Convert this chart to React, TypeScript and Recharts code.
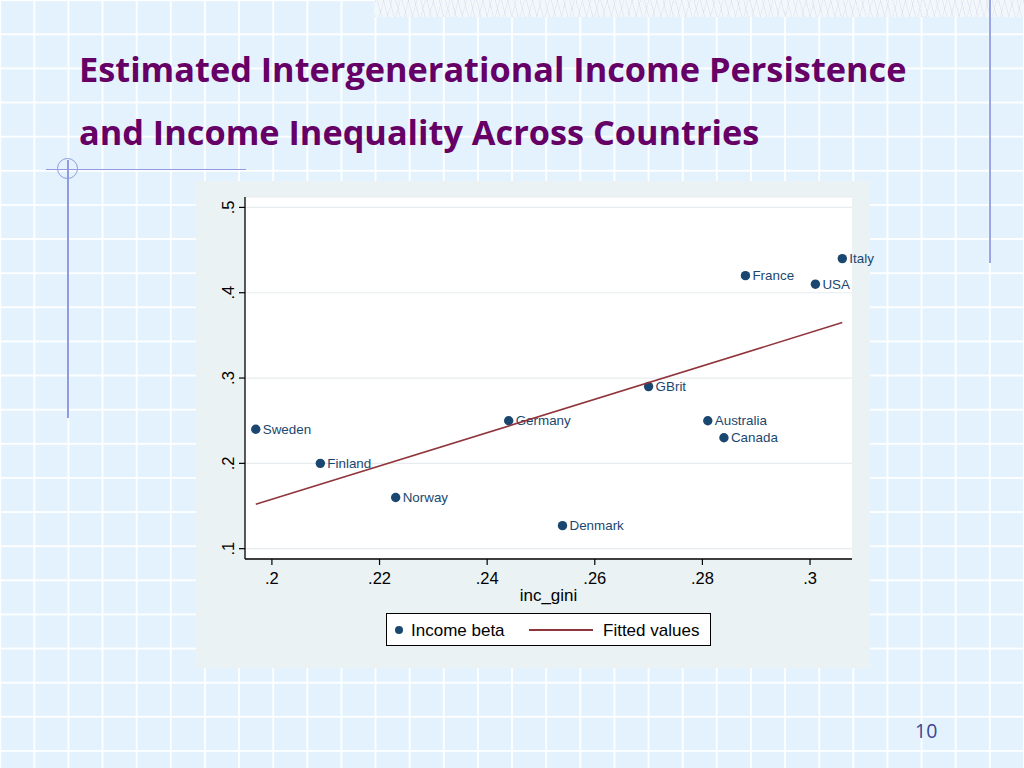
import React from 'react';
import { ScatterChart, Scatter, XAxis, YAxis, CartesianGrid, Legend, Label } from 'recharts';

// ---- data ----
const countries = ['Sweden', 'Finland', 'Norway', 'Germany', 'Denmark', 'GBrit', 'Australia', 'Canada', 'France', 'USA', 'Italy'];
const incGini = [0.197, 0.209, 0.223, 0.244, 0.254, 0.27, 0.281, 0.284, 0.288, 0.301, 0.306];
const incomeBeta = [0.24, 0.2, 0.16, 0.25, 0.127, 0.29, 0.25, 0.23, 0.42, 0.41, 0.44];
const fittedX = [0.197, 0.306];
const fittedY = [0.152, 0.365];
const xTicks = [0.2, 0.22, 0.24, 0.26, 0.28, 0.3];
const yTicks = [0.1, 0.2, 0.3, 0.4, 0.5];

const titleLines = ['Estimated Intergenerational Income Persistence', 'and Income Inequality Across Countries'];
const pageNumber = '10';

const points = countries.map((name, i) => ({ name, x: incGini[i], y: incomeBeta[i] }));
const fitted = fittedX.map((x, i) => ({ x, y: fittedY[i] }));

const NAVY = '#1a476f';
const MAROON = '#90353b';
const CHART_FONT = '"Liberation Sans", Arial, sans-serif';

const fmt = (v: number) => String(v).replace(/^0/, '');

const PointShape = (props: any) => {
  const { cx, cy, payload } = props;
  return (
    <g>
      <circle cx={cx} cy={cy} r={4.7} fill={NAVY} />
      <text x={cx + 7} y={cy} dy="0.35em" fontSize={13.4} fill={NAVY} fontFamily={CHART_FONT}>
        {payload.name}
      </text>
    </g>
  );
};

const XTick = (props: any) => {
  const { x, y, payload } = props;
  return (
    <text x={x} y={y + 17} textAnchor="middle" fontSize={16.5} fill="#000" fontFamily={CHART_FONT}>
      {fmt(payload.value)}
    </text>
  );
};

const YTick = (props: any) => {
  const { x, y, payload } = props;
  const bx = x - 3;
  return (
    <text x={bx} y={y} transform={`rotate(-90 ${bx} ${y})`} textAnchor="middle" fontSize={16.5} fill="#000" fontFamily={CHART_FONT}>
      {fmt(payload.value)}
    </text>
  );
};

const LegendBox = (props: any) => {
  const payload = props.payload || [];
  const dotItem = payload.find((p: any) => p.type !== 'line');
  const lineItem = payload.find((p: any) => p.type === 'line');
  return (
    <div
      style={{
        position: 'relative',
        width: 325,
        height: 33,
        boxSizing: 'border-box',
        border: '1px solid #000',
        background: '#fff',
        fontFamily: CHART_FONT,
        fontSize: 17,
        color: '#000',
      }}
    >
      {dotItem && (
        <>
          <div style={{ position: 'absolute', left: 8, top: 12, width: 8, height: 8, borderRadius: '50%', background: NAVY }} />
          <div style={{ position: 'absolute', left: 24, top: 1, lineHeight: '31px' }}>{dotItem.value}</div>
        </>
      )}
      {lineItem && (
        <>
          <div style={{ position: 'absolute', left: 142, top: 15, width: 64, height: 1.6, background: MAROON }} />
          <div style={{ position: 'absolute', left: 216, top: 1, lineHeight: '31px' }}>{lineItem.value}</div>
        </>
      )}
    </div>
  );
};

export default function App() {
  return (
    <div
      style={{
        position: 'fixed',
        left: 0,
        top: 0,
        width: 1024,
        height: 768,
        overflow: 'hidden',
        backgroundColor: '#e3f2fd',
        backgroundImage:
          'linear-gradient(to right, rgba(255,255,255,0.9) 1.6px, transparent 1.6px), linear-gradient(to bottom, rgba(255,255,255,0.9) 1.6px, transparent 1.6px)',
        backgroundSize: '34.1333px 34.1333px',
        backgroundPosition: '-0.8px -0.8px',
      }}
    >
      {/* top hatched strip */}
      <div
        style={{
          position: 'absolute',
          left: 375,
          top: 0,
          width: 649,
          height: 17,
          backgroundColor: '#f2f7fc',
          backgroundImage:
            'repeating-linear-gradient(75deg, rgba(200,200,222,0.3) 0 1px, transparent 1px 6px), repeating-linear-gradient(105deg, rgba(200,200,222,0.25) 0 1px, transparent 1px 8px)',
        }}
      />
      {/* right vertical line */}
      <div style={{ position: 'absolute', left: 989, top: 0, width: 1.5, height: 263, background: '#9aa6e2' }} />
      {/* left decoration */}
      <div style={{ position: 'absolute', left: 46, top: 168.5, width: 200, height: 1.3, background: '#8f9ae3' }} />
      <div style={{ position: 'absolute', left: 67, top: 160, width: 1.5, height: 258, background: '#8f9ae3' }} />
      <div
        style={{
          position: 'absolute',
          left: 57,
          top: 158,
          width: 21,
          height: 21,
          boxSizing: 'border-box',
          borderRadius: '50%',
          border: '1.4px solid #8f9ae3',
        }}
      />

      {/* title */}
      {titleLines.map((t, i) => (
        <div
          key={i}
          style={{
            position: 'absolute',
            left: 79,
            top: 37 + i * 63,
            lineHeight: '63px',
            fontFamily: '"Open Sans", "Noto Sans", sans-serif',
            fontWeight: 700,
            fontSize: 34.3,
            color: '#660066',
            whiteSpace: 'nowrap',
          }}
        >
          {t}
        </div>
      ))}

      {/* chart panel */}
      <div style={{ position: 'absolute', left: 196, top: 181, width: 674, height: 487, background: '#eaf2f3' }} />
      <div style={{ position: 'absolute', left: 196, top: 181 }}>
        <ScatterChart width={700} height={487} margin={{ top: 16, right: 44, bottom: 0, left: 0 }}>
          <CartesianGrid horizontal vertical={false} fill="#ffffff" stroke="#e8ecee" strokeWidth={1.2} />
          <XAxis
            type="number"
            dataKey="x"
            domain={[0.195, 0.3078]}
            ticks={xTicks}
            height={109}
            tickSize={6}
            tick={<XTick />}
            axisLine={{ stroke: '#000', strokeWidth: 1.3 }}
            tickLine={{ stroke: '#000', strokeWidth: 1.2 }}
          >
            <Label value="inc_gini" position="insideBottom" offset={67} fontSize={17} fill="#000" fontFamily={CHART_FONT} />
          </XAxis>
          <YAxis
            type="number"
            dataKey="y"
            domain={[0.0879, 0.5122]}
            ticks={yTicks}
            width={49}
            tickSize={6}
            tick={<YTick />}
            axisLine={{ stroke: '#000', strokeWidth: 1.3 }}
            tickLine={{ stroke: '#000', strokeWidth: 1.2 }}
          />
          <Legend
            layout="horizontal"
            verticalAlign="middle"
            align="center"
            wrapperStyle={{ left: 190, top: 432, width: 325, height: 33 }}
            content={<LegendBox />}
          />
          <Scatter name="Income beta" data={points} fill={NAVY} shape={<PointShape />} legendType="circle" isAnimationActive={false} />
          <Scatter
            name="Fitted values"
            data={fitted}
            fill={MAROON}
            line={{ stroke: MAROON, strokeWidth: 1.6 }}
            shape={() => <g />}
            legendType="line"
            isAnimationActive={false}
          />
        </ScatterChart>
      </div>

      {/* page number */}
      <div
        style={{
          position: 'absolute',
          left: 915,
          top: 718,
          lineHeight: '26px',
          fontFamily: '"Open Sans", "Noto Sans", sans-serif',
          fontSize: 19.5,
          color: '#3d4690',
        }}
      >
        {pageNumber}
      </div>
    </div>
  );
}
